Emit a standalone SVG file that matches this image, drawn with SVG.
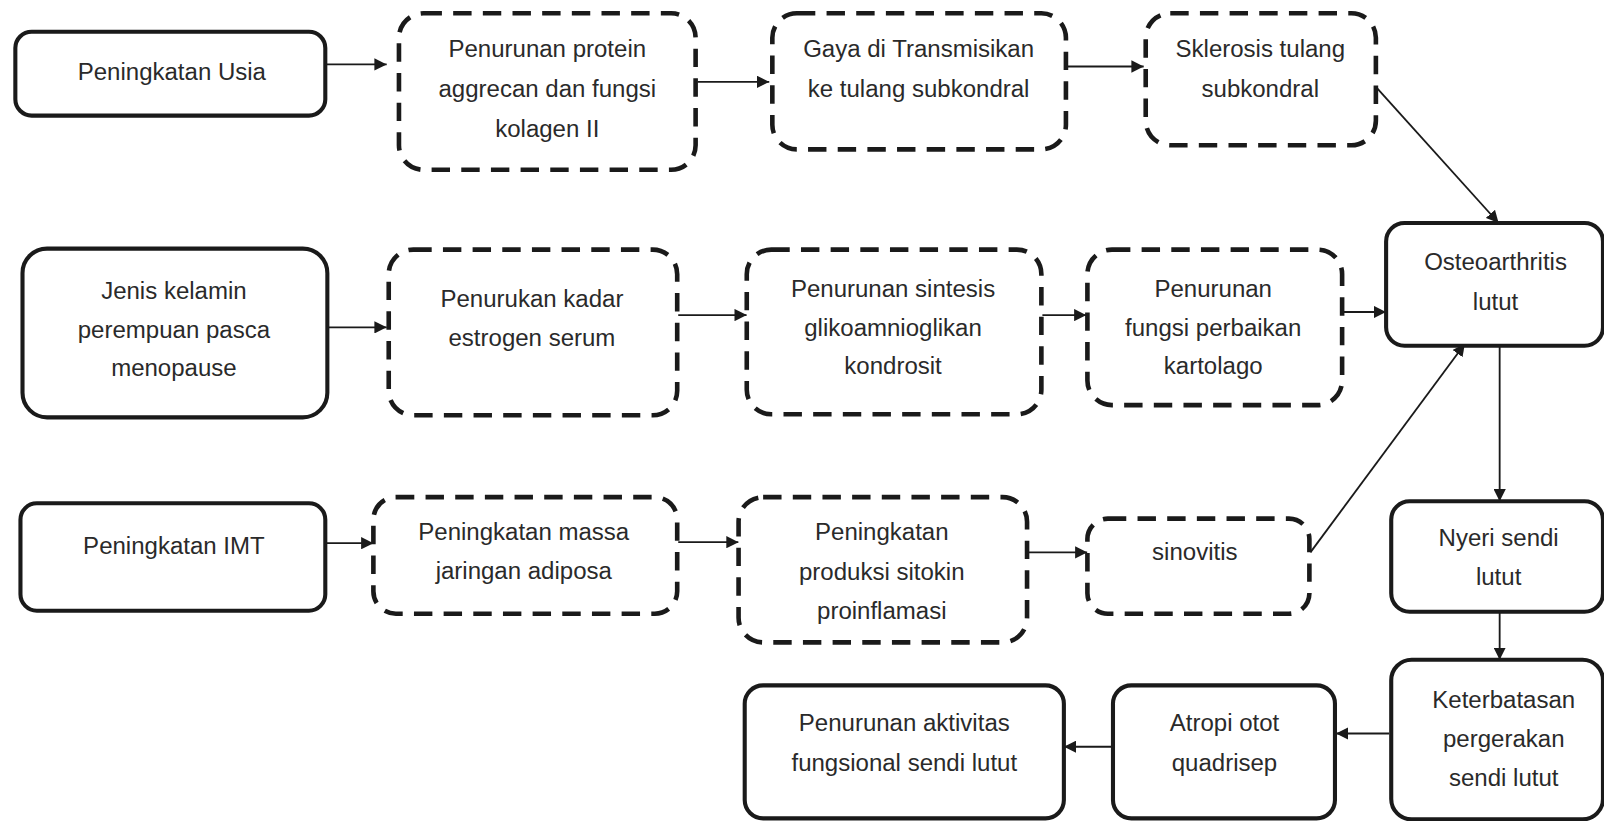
<svg xmlns="http://www.w3.org/2000/svg" width="1604" height="821" viewBox="0 0 1604 821">
<style>
.solid{fill:#fff;stroke:#1a1a1a;stroke-width:4}
.dash{fill:#fff;stroke:#1a1a1a;stroke-width:4.5;stroke-dasharray:18 11}
.t{font-family:"Liberation Sans",Arial,sans-serif;font-size:23.5px;fill:#2a2a2a;text-anchor:middle}
.c{fill:none;stroke:#1a1a1a;stroke-width:1.8}
</style>
<defs>
<marker id="ah2" viewBox="0 0 10 10" refX="10" refY="5" markerWidth="12" markerHeight="12" markerUnits="userSpaceOnUse" orient="auto"><path d="M0,0 L10,5 L0,10 z" fill="#1a1a1a"/></marker>
</defs>
<rect width="1604" height="821" fill="#fff"/>
<g transform="scale(1.02296)">
<g id="connectors">
<line class="c" x1="318" y1="63" x2="378" y2="63" marker-end="url(#ah2)"/>
<line class="c" x1="682" y1="80" x2="752" y2="80" marker-end="url(#ah2)"/>
<line class="c" x1="1044" y1="65" x2="1118" y2="65" marker-end="url(#ah2)"/>
<line class="c" x1="1345" y1="85" x2="1465" y2="218" marker-end="url(#ah2)"/>
<line class="c" x1="320" y1="320" x2="378" y2="320" marker-end="url(#ah2)"/>
<line class="c" x1="663" y1="308" x2="730" y2="308" marker-end="url(#ah2)"/>
<line class="c" x1="1019" y1="308" x2="1062" y2="308" marker-end="url(#ah2)"/>
<line class="c" x1="1313" y1="305" x2="1355" y2="305" marker-end="url(#ah2)"/>
<line class="c" x1="318" y1="531" x2="365" y2="531" marker-end="url(#ah2)"/>
<line class="c" x1="663" y1="530" x2="722" y2="530" marker-end="url(#ah2)"/>
<line class="c" x1="1004" y1="540" x2="1063" y2="540" marker-end="url(#ah2)"/>
<line class="c" x1="1281" y1="540" x2="1432" y2="336" marker-end="url(#ah2)"/>
<line class="c" x1="1466" y1="338" x2="1466" y2="490" marker-end="url(#ah2)"/>
<line class="c" x1="1466" y1="598" x2="1466" y2="645" marker-end="url(#ah2)"/>
<line class="c" x1="1358" y1="717" x2="1306" y2="717" marker-end="url(#ah2)"/>
<line class="c" x1="1088" y1="730" x2="1040" y2="730" marker-end="url(#ah2)"/>
</g>
<g id="n1"><rect class="solid" x="15" y="31" width="303" height="82" rx="16"/><text class="t" x="168" y="78">Peningkatan Usia</text></g>
<g id="n2"><rect class="dash" x="390" y="13" width="290" height="153" rx="24"/><text class="t"><tspan x="535" y="56">Penurunan protein</tspan><tspan x="535" y="95">aggrecan dan fungsi</tspan><tspan x="535" y="134">kolagen II</tspan></text></g>
<g id="n3"><rect class="dash" x="755" y="13" width="287" height="133" rx="24"/><text class="t"><tspan x="898" y="56">Gaya di Transmisikan</tspan><tspan x="898" y="95">ke tulang subkondral</tspan></text></g>
<g id="n4"><rect class="dash" x="1120" y="13" width="225" height="129" rx="24"/><text class="t"><tspan x="1232" y="56">Sklerosis tulang</tspan><tspan x="1232" y="95">subkondral</tspan></text></g>
<g id="n5"><rect class="solid" x="22" y="243" width="298" height="165" rx="24"/><text class="t"><tspan x="170" y="292">Jenis kelamin</tspan><tspan x="170" y="330">perempuan pasca</tspan><tspan x="170" y="368">menopause</tspan></text></g>
<g id="n6"><rect class="dash" x="380" y="244" width="282" height="162" rx="24"/><text class="t"><tspan x="520" y="300">Penurukan kadar</tspan><tspan x="520" y="338">estrogen serum</tspan></text></g>
<g id="n7"><rect class="dash" x="730" y="244" width="288" height="161" rx="24"/><text class="t"><tspan x="873" y="290">Penurunan sintesis</tspan><tspan x="873" y="328">glikoamnioglikan</tspan><tspan x="873" y="366">kondrosit</tspan></text></g>
<g id="n8"><rect class="dash" x="1063" y="244" width="249" height="152" rx="24"/><text class="t"><tspan x="1186" y="290">Penurunan</tspan><tspan x="1186" y="328">fungsi perbaikan</tspan><tspan x="1186" y="366">kartolago</tspan></text></g>
<g id="n9"><rect class="solid" x="1355" y="218" width="212" height="120" rx="18"/><text class="t"><tspan x="1462" y="264">Osteoarthritis</tspan><tspan x="1462" y="303">lutut</tspan></text></g>
<g id="n10"><rect class="solid" x="20" y="492" width="298" height="105" rx="16"/><text class="t" x="170" y="542">Peningkatan IMT</text></g>
<g id="n11"><rect class="dash" x="365" y="486" width="297" height="114" rx="22"/><text class="t"><tspan x="512" y="528">Peningkatan massa</tspan><tspan x="512" y="566">jaringan adiposa</tspan></text></g>
<g id="n12"><rect class="dash" x="722" y="486" width="282" height="142" rx="24"/><text class="t"><tspan x="862" y="528">Peningkatan</tspan><tspan x="862" y="567">produksi sitokin</tspan><tspan x="862" y="605">proinflamasi</tspan></text></g>
<g id="n13"><rect class="dash" x="1063" y="507" width="217" height="93" rx="20"/><text class="t" x="1168" y="547">sinovitis</text></g>
<g id="n14"><rect class="solid" x="1360" y="490" width="207" height="108" rx="18"/><text class="t"><tspan x="1465" y="534">Nyeri sendi</tspan><tspan x="1465" y="572">lutut</tspan></text></g>
<g id="n15"><rect class="solid" x="1360" y="645" width="207" height="156" rx="20"/><text class="t"><tspan x="1470" y="692">Keterbatasan</tspan><tspan x="1470" y="730">pergerakan</tspan><tspan x="1470" y="768">sendi lutut</tspan></text></g>
<g id="n16"><rect class="solid" x="1088" y="670" width="217" height="130" rx="18"/><text class="t"><tspan x="1197" y="715">Atropi otot</tspan><tspan x="1197" y="754">quadrisep</tspan></text></g>
<g id="n17"><rect class="solid" x="728" y="670" width="312" height="130" rx="18"/><text class="t"><tspan x="884" y="715">Penurunan aktivitas</tspan><tspan x="884" y="754">fungsional sendi lutut</tspan></text></g>
</g>
</svg>
